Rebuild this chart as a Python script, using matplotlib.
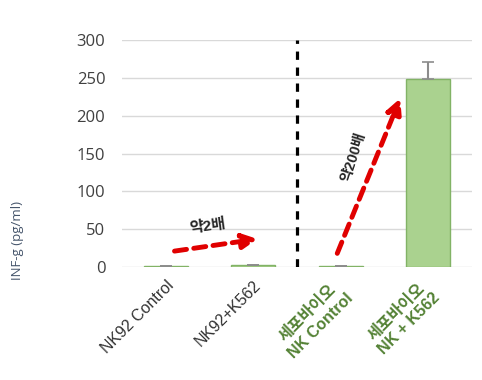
import matplotlib.pyplot as plt
import matplotlib.transforms as mtransforms
import numpy as np

plt.rcParams['font.family'] = ['Liberation Sans', 'Noto Sans CJK KR', 'DejaVu Sans']

# 데이터
categories = ['NK92 Control', 'NK92+K562', '세포바이오\nNK Control', '세포바이오\nNK + K562']
values = [1, 2, 1, 248]
errors = [0.5, 0.8, 0.5, 23]
label_colors = ['#333333', '#333333', '#548235', '#548235']
label_weights = ['normal', 'normal', 'bold', 'bold']
yticks = [0, 50, 100, 150, 200, 250, 300]

fig = plt.figure(figsize=(4.82, 3.80), dpi=100)
ax = fig.add_axes([122 / 482, 1 - 267 / 380, 350 / 482, 227 / 380])

x = np.arange(len(categories))
ax.bar(x, values, width=0.5, color='#aad28f', edgecolor='#82b366', linewidth=1, zorder=3)
ax.errorbar(x, values, yerr=[np.zeros(len(errors)), errors], fmt='none',
            ecolor='#8c8c8c', elinewidth=1.5, capsize=4, capthick=1.2, zorder=4)

ax.set_xlim(-0.5, len(categories) - 0.5)
ax.set_ylim(0, 300)
ax.set_yticks(yticks)
ax.set_yticklabels([str(v) for v in yticks], fontsize=12, color='#404040',
                   family=['Open Sans', 'DejaVu Sans'])
ax.tick_params(axis='y', length=0, pad=12)
ax.tick_params(axis='x', length=0, pad=8)
ax.grid(axis='y', color='#d9d9d9', linewidth=1, zorder=0)
for s in ax.spines.values():
    s.set_visible(False)

ax.set_xticks(x)
ax.set_xticklabels(categories, rotation=45, ha='right', rotation_mode='anchor',
                   fontsize=11.5, multialignment='center')
for i, (lbl, c, w) in enumerate(zip(ax.get_xticklabels(), label_colors, label_weights)):
    lbl.set_color(c)
    lbl.set_fontweight(w)
    if w == 'bold':
        # 두 줄 라벨은 조금 왼쪽으로
        lbl.set_transform(lbl.get_transform() +
                          mtransforms.ScaledTranslation(-8 / 100, 0, fig.dpi_scale_trans))

# 구분선
ax.axvline(1.5, color='black', linestyle=(0, (2.6, 2.4)), linewidth=2.3, zorder=5)

# 빨간 화살표
for (x0, y0), (x1, y1) in [((0.1, 21), (1.05, 37)), ((1.96, 18), (2.68, 223))]:
    ax.annotate('', xy=(x1, y1), xytext=(x0, y0),
                arrowprops=dict(arrowstyle='-|>', color='#e00000', lw=3.5,
                                linestyle=(0, (2.5, 1.5)), mutation_scale=22,
                                shrinkA=0, shrinkB=0), zorder=6)

ax.text(0.48, 54, '약2배', fontsize=11, fontweight='bold', color='#262626',
        rotation=8, ha='center', va='center')
ax.text(2.14, 145, '약200배', fontsize=10.5, fontweight='bold', color='#262626',
        rotation=72, ha='center', va='center')

fig.text(18 / 482, 1 - 240 / 380, 'INF-g (pg/ml)', rotation=90, fontsize=9.5,
         color='#44546a', ha='center', va='center', family=['Open Sans', 'DejaVu Sans'])

fig.savefig('out.png', dpi=100)
